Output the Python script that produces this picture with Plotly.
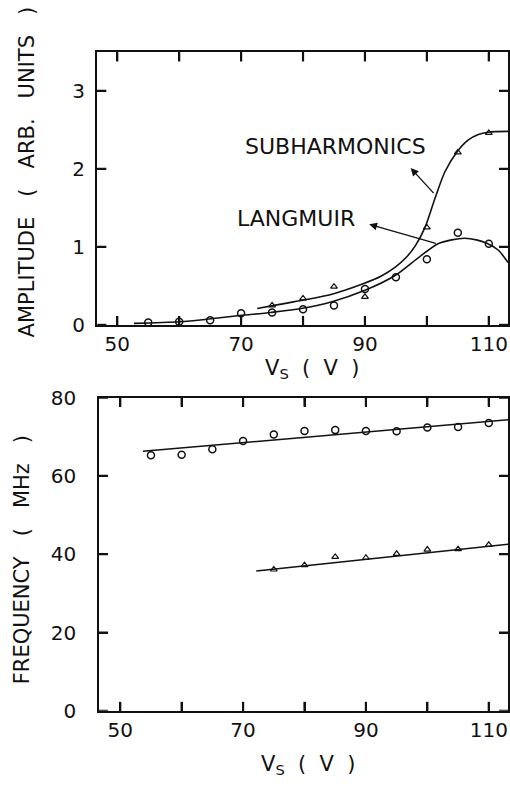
import plotly.graph_objects as go

# ---------------- data ----------------
# Top panel: amplitude (arb. units)
amp_langmuir_x = [55, 60, 65, 70, 75, 80, 85, 90, 95, 100, 105, 110]
amp_langmuir_y = [0.03, 0.04, 0.06, 0.15, 0.16, 0.20, 0.25, 0.46, 0.61, 0.84, 1.18, 1.04]
amp_sub_x = [75, 80, 85, 90, 100, 105, 110]
amp_sub_y = [0.25, 0.34, 0.49, 0.36, 1.25, 2.21, 2.46]

# hand-drawn fit curves
fit_langmuir_x = [52.7, 60, 64.8, 69.8, 74.8, 79.7, 84.8, 89.9, 94.8, 98.6, 101.8, 104.0, 106.1, 108.0, 109.6, 111.5, 113.1]
fit_langmuir_y = [0.02, 0.04, 0.075, 0.12, 0.16, 0.21, 0.30, 0.44, 0.63, 0.86, 1.04, 1.09, 1.11, 1.09, 1.05, 0.96, 0.80]
fit_sub_x = [72.6, 76.0, 79.9, 84.95, 89.8, 92.5, 94.9, 96.6, 98.1, 99.7, 101.3, 102.9, 104.8, 106.7, 108.3, 109.9, 113.1]
fit_sub_y = [0.21, 0.26, 0.315, 0.40, 0.53, 0.62, 0.74, 0.86, 1.01, 1.25, 1.62, 1.96, 2.21, 2.37, 2.44, 2.47, 2.48]

# Bottom panel: frequency (MHz)
freq_langmuir_x = [55, 60, 65, 70, 75, 80, 85, 90, 95, 100, 105, 110]
freq_langmuir_y = [65.3, 65.4, 66.8, 68.9, 70.6, 71.5, 71.7, 71.5, 71.4, 72.4, 72.5, 73.5]
freq_sub_x = [75, 80, 85, 90, 95, 100, 105, 110]
freq_sub_y = [36.1, 37.2, 39.3, 39.1, 40.1, 41.2, 41.3, 42.4]
fitline_langmuir_x = [53.7, 113.13]
fitline_langmuir_y = [66.3, 74.35]
fitline_sub_x = [72.15, 113.13]
fitline_sub_y = [35.7, 42.55]

# ticks
x_tickvals = [50, 60, 70, 80, 90, 100, 110]
x_ticklabels = ["50", "", "70", "", "90", "", "110"]
amp_tickvals = [0, 1, 2, 3]
amp_ticklabels = ["0", "1", "2", "3"]
freq_tickvals = [0, 20, 40, 60, 80]
freq_ticklabels = ["0", "20", "40", "60", "80"]

# ---------------- figure ----------------
W, H = 510, 791
FONT = "DejaVu Sans"
BLACK = "#111111"
TICKLEN = 9

fig = go.Figure()

# top panel
fig.add_trace(go.Scatter(x=fit_langmuir_x, y=fit_langmuir_y, mode="lines", line=dict(color=BLACK, width=1.6, shape="spline", smoothing=0.8), xaxis="x", yaxis="y", showlegend=False, hoverinfo="skip"))
fig.add_trace(go.Scatter(x=fit_sub_x, y=fit_sub_y, mode="lines", line=dict(color=BLACK, width=1.6, shape="spline", smoothing=0.8), xaxis="x", yaxis="y", showlegend=False, hoverinfo="skip"))
fig.add_trace(go.Scatter(x=amp_langmuir_x, y=amp_langmuir_y, mode="markers", marker=dict(symbol="circle-open", size=7, color=BLACK, line=dict(width=1.5)), xaxis="x", yaxis="y", showlegend=False))
fig.add_trace(go.Scatter(x=amp_sub_x, y=amp_sub_y, mode="markers", marker=dict(symbol="triangle-up-open", size=6, color=BLACK, line=dict(width=1.2)), xaxis="x", yaxis="y", showlegend=False))

# bottom panel
fig.add_trace(go.Scatter(x=fitline_langmuir_x, y=fitline_langmuir_y, mode="lines", line=dict(color=BLACK, width=1.6), xaxis="x2", yaxis="y2", showlegend=False, hoverinfo="skip"))
fig.add_trace(go.Scatter(x=fitline_sub_x, y=fitline_sub_y, mode="lines", line=dict(color=BLACK, width=1.6), xaxis="x2", yaxis="y2", showlegend=False, hoverinfo="skip"))
fig.add_trace(go.Scatter(x=freq_langmuir_x, y=freq_langmuir_y, mode="markers", marker=dict(symbol="circle-open", size=7, color=BLACK, line=dict(width=1.5)), xaxis="x2", yaxis="y2", showlegend=False))
fig.add_trace(go.Scatter(x=freq_sub_x, y=freq_sub_y, mode="markers", marker=dict(symbol="triangle-up-open", size=6, color=BLACK, line=dict(width=1.2)), xaxis="x2", yaxis="y2", showlegend=False))


def px_x(p):
    return p / W


def px_y(p):
    return 1 - p / H


tickfont = dict(family=FONT, size=20, color=BLACK)
# Plotly's own inside ticks, mirrored on the opposite side (no ticklabelstandoff)
common_axis = dict(tickmode="array", ticks="inside", ticklen=TICKLEN, tickwidth=2.2, tickcolor=BLACK,
                   showline=True, linecolor=BLACK, linewidth=2, mirror="ticks",
                   showgrid=False, zeroline=False, tickfont=tickfont)

fig.update_layout(
    width=W, height=H,
    margin=dict(l=0, r=0, t=0, b=0),
    paper_bgcolor="white", plot_bgcolor="white",
    showlegend=False,
    xaxis=dict(common_axis, domain=[px_x(97.7), 1.0], range=[46.78, 113.1], anchor="y",
               tickvals=x_tickvals, ticktext=x_ticklabels),
    yaxis=dict(common_axis, domain=[px_y(322.7), px_y(41.7)], range=[0, 3.492], anchor="x",
               tickvals=amp_tickvals, ticktext=[t + "\u00a0" for t in amp_ticklabels]),
    xaxis2=dict(common_axis, domain=[px_x(99.3), 1.0], range=[46.53, 113.13], anchor="y2",
                tickvals=x_tickvals, ticktext=x_ticklabels),
    yaxis2=dict(common_axis, domain=[px_y(720.7), px_y(397.7)], range=[0, 80], anchor="x2",
                tickvals=freq_tickvals, ticktext=[t + "\u00a0\u00a0\u2009" for t in freq_ticklabels]),
)

# backup inward tick marks on all four sides, placed through the axes' own scales
shapes = []
tick_line = dict(color=BLACK, width=2.2)
for xa, ya, yvals in (("x", "y", amp_tickvals), ("x2", "y2", freq_tickvals)):
    for v in x_tickvals:
        shapes.append(dict(type="line", xref=xa, yref=ya + " domain", ysizemode="pixel", yanchor=0,
                           x0=v, x1=v, y0=0, y1=TICKLEN, line=tick_line, layer="above"))
        shapes.append(dict(type="line", xref=xa, yref=ya + " domain", ysizemode="pixel", yanchor=1,
                           x0=v, x1=v, y0=0, y1=-TICKLEN, line=tick_line, layer="above"))
    for v in yvals:
        shapes.append(dict(type="line", xref=xa + " domain", yref=ya, xsizemode="pixel", xanchor=0,
                           x0=0, x1=TICKLEN, y0=v, y1=v, line=tick_line, layer="above"))
        shapes.append(dict(type="line", xref=xa + " domain", yref=ya, xsizemode="pixel", xanchor=1,
                           x0=0, x1=-TICKLEN, y0=v, y1=v, line=tick_line, layer="above"))
fig.update_layout(shapes=shapes)

titlefont = dict(family=FONT, size=21, color=BLACK)
labelfont = dict(family=FONT, size=22, color=BLACK)

annotations = [
    # axis titles
    dict(text="AMPLITUDE   (   ARB.   UNITS   )", xref="paper", yref="paper", x=px_x(27.5), y=px_y(165),
         textangle=-90, showarrow=False, font=titlefont, xanchor="center", yanchor="middle"),
    dict(text="V<sub>S</sub>  (  V  )", xref="paper", yref="paper", x=px_x(314), y=px_y(353),
         showarrow=False, font=titlefont, xanchor="center", yanchor="top"),
    dict(text="FREQUENCY   (   MHz   )", xref="paper", yref="paper", x=px_x(21.5), y=px_y(565),
         textangle=-90, showarrow=False, font=titlefont, xanchor="center", yanchor="middle"),
    dict(text="V<sub>S</sub>  (  V  )", xref="paper", yref="paper", x=px_x(310), y=px_y(761),
         showarrow=False, font=titlefont, xanchor="center", yanchor="top"),
    # curve labels
    dict(text="SUBHARMONICS", xref="x", yref="y", x=85.2, y=2.29, showarrow=False, font=labelfont,
         xanchor="center", yanchor="middle"),
    dict(text="LANGMUIR", xref="x", yref="y", x=78.8, y=1.36, showarrow=False, font=labelfont,
         xanchor="center", yanchor="middle"),
    # arrows
    dict(text="", xref="x", yref="y", axref="x", ayref="y", x=97.39, y=2.01, ax=101.31, ay=1.67,
         showarrow=True, arrowhead=2, arrowsize=1.2, arrowwidth=1.3, arrowcolor=BLACK, standoff=0, startstandoff=0),
    dict(text="", xref="x", yref="y", axref="x", ayref="y", x=90.69, y=1.29, ax=101.68, ay=1.04,
         showarrow=True, arrowhead=2, arrowsize=1.2, arrowwidth=1.3, arrowcolor=BLACK, standoff=0, startstandoff=0),
]
fig.update_layout(annotations=annotations)

fig.write_html("out.html")
